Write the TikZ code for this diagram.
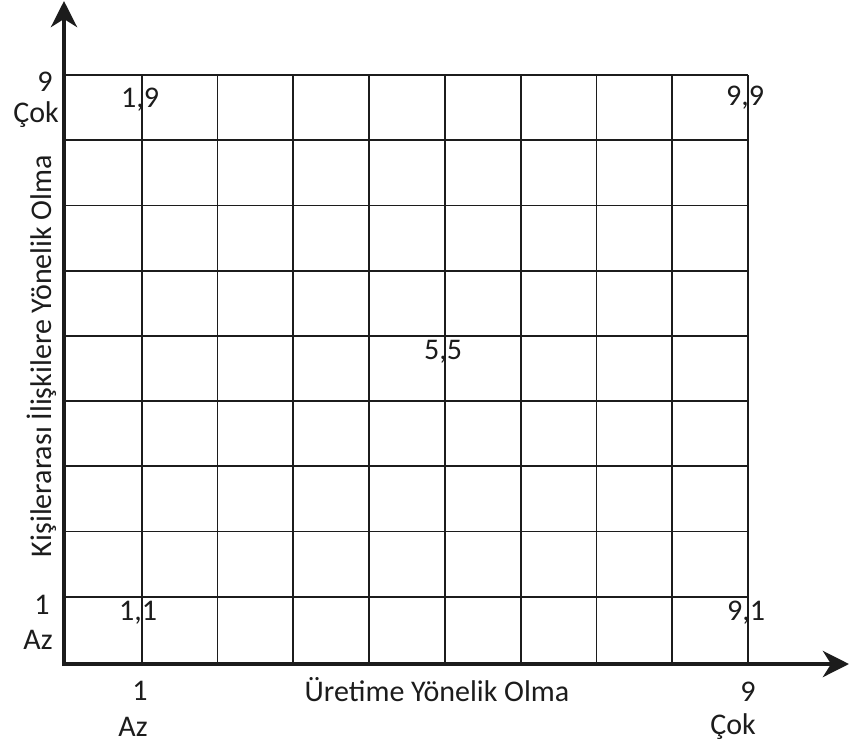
\documentclass[tikz,border=0pt]{standalone}
\usepackage{fontspec}
\setmainfont{Carlito}
\usetikzlibrary{arrows.meta}
\definecolor{ink}{RGB}{28,28,28}
\tikzset{
  gridline/.style={draw=ink, line width=1.8pt},
  axisline/.style={draw=ink, line width=4.5pt, -{Stealth[length=26pt, width=26pt, inset=8pt]}},
  lbl/.style={text=ink, inner sep=0pt, font=\fontsize{30}{32}\selectfont},
}
\begin{document}
\begin{tikzpicture}[x=1pt, y=-1pt]
\useasboundingbox (0,0) rectangle (849,745);
% grid
\foreach \i in {1,...,9} {
  \draw[gridline] ({66+\i*75.78},75) -- ({66+\i*75.78},662);
}
\foreach \j in {0,...,8} {
  \draw[gridline] (64,{75+\j*65.22}) -- (748,{75+\j*65.22});
}
% axes
\coordinate (O) at (64,664);
\coordinate (ytop) at (64,1);
\coordinate (xend) at (849,664);
\draw[axisline] ([yshift=-2pt]O) -- (ytop);
\draw[axisline] ([xshift=-2pt]O) -- (xend);
% axis labels
\node[lbl] (yl9) at (45,82) {9};
\node[lbl] (ylcok) at (36,115) {Çok};
\node[lbl] (yl1) at (42,605) {1};
\node[lbl] (ylaz) at (38,640) {Az};
\node[lbl] (xl1) at (140,691) {1};
\node[lbl] (xlaz) at (133,727) {Az};
\node[lbl] (xl9) at (748,692) {9};
\node[lbl] (xlcok) at (733,727) {Çok};
\node[lbl] (xlabel) at (437,690) {Üretime Yönelik Olma};
\node[lbl, rotate=90] (ylabel) at (42,356) {Kişilerarası İlişkilere Yönelik Olma};
% points
\node[lbl] (p19) at (140,100) {1,9};
\node[lbl] (p99) at (745,98) {9,9};
\node[lbl] (p55) at (443,352) {5,5};
\node[lbl] (p11) at (138,613) {1,1};
\node[lbl] (p91) at (746,613) {9,1};
\end{tikzpicture}
\end{document}
